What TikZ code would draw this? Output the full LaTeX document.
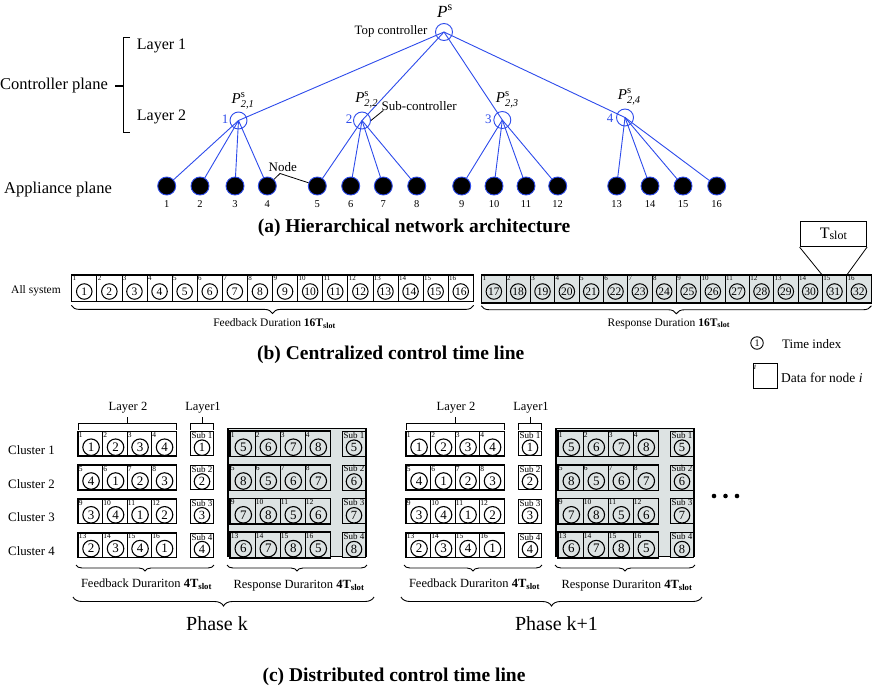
\documentclass[tikz,border=0pt]{standalone}
\usepackage{fontspec}
\usepackage{amsmath}
\setmainfont{Liberation Serif}
\usetikzlibrary{decorations.pathreplacing,backgrounds}
\definecolor{ablue}{RGB}{45,75,235}
\definecolor{gfill}{RGB}{221,227,227}
\newcommand{\myfs}[1]{\fontsize{#1}{#1}\selectfont}
\begin{document}
\begin{tikzpicture}[x=1pt,y=-1pt,
  ctrl/.style={circle,draw=ablue,line width=0.9pt,minimum size=17pt,inner sep=0pt},
  app/.style={circle,fill=black,draw=ablue,line width=0.9pt,minimum size=18pt,inner sep=0pt},
  link/.style={ablue,line width=0.9pt},
  lbl/.style={inner sep=0pt},
  slotbox/.style={draw,line width=0.8pt,inner sep=0pt},
  tcirc/.style={circle,draw,line width=1pt,minimum size=15.5pt,inner sep=0pt,font=\myfs{11.5}},
  idx/.style={inner sep=1.2pt,anchor=north west,font=\myfs{7}},
  idxc/.style={inner sep=1.2pt,anchor=north west,font=\myfs{7.5}},
  cbox/.style={draw,line width=1pt,minimum height=24pt,inner sep=0pt},
  ccirc/.style={circle,draw,line width=1.1pt,minimum size=16.5pt,inner sep=0pt,font=\myfs{13}},
  scirc/.style={circle,draw,line width=1.1pt,minimum size=15.5pt,inner sep=0pt,font=\myfs{12.5}},
  brc/.style={decorate,decoration={brace,mirror,amplitude=#1},line width=0.9pt},
  brk/.style={line width=0.8pt},
]
\useasboundingbox (0,0) rectangle (872,688);

% ---------------- (a) hierarchical network ----------------
\node[ctrl] (top) at (444,32) {};
\node[ctrl] (s1) at (238.5,120.5) {};
\node[ctrl] (s2) at (362,120.5) {};
\node[ctrl] (s3) at (502.3,120) {};
\node[ctrl] (s4) at (625,117.5) {};
\foreach \x [count=\i] in {166.7,200,235,267.3,317.3,350.7,383.3,416.7,461.7,494,526,557.7,616.7,650,683,716.7} {
  \node[app] (a\i) at (\x,186) {};
  \node[lbl,font=\myfs{10.5}] (an\i) at (\x,204) {\i};
}
\begin{scope}[on background layer]
  \foreach \k in {1,...,4} \draw[link] (top.center) -- (s\k.center);
  \foreach \j in {1,...,16} {
    \pgfmathtruncatemacro{\sid}{(\j-1)/4+1}
    \draw[link] (s\sid.center) -- (a\j.center);
  }
\end{scope}

\node[lbl,font=\myfs{17}] (ptop) at (445,11) {$\textit{P}^{\text{s}}$};
\node[lbl,font=\myfs{12.8}] (tc) at (391,31) {Top controller};
\node[lbl,font=\myfs{15}] (p1) at (243,101) {$\textit{P}^{\text{s}}_{\textit{2,1}}$};
\node[lbl,font=\myfs{15}] (p2) at (366.7,100) {$\textit{P}^{\text{s}}_{\textit{2,2}}$};
\node[lbl,font=\myfs{15}] (p3) at (507.3,100) {$\textit{P}^{\text{s}}_{\textit{2,3}}$};
\node[lbl,font=\myfs{15}] (p4) at (629.3,97) {$\textit{P}^{\text{s}}_{\textit{2,4}}$};
\node[lbl,ablue,font=\myfs{13}] (k1) at (225,119) {1};
\node[lbl,ablue,font=\myfs{13}] (k2) at (349,119) {2};
\node[lbl,ablue,font=\myfs{13}] (k3) at (488.3,119) {3};
\node[lbl,ablue,font=\myfs{13}] (k4) at (610,118) {4};

\node[lbl,anchor=west,font=\myfs{13}] (sc) at (381.5,106.5) {Sub-controller};
\coordinate (scl) at (383.3,110.5);
\draw[line width=0.8pt] (scl) -- (s2.east);

\node[lbl,font=\myfs{13}] (nodelbl) at (282.7,167.5) {Node};
\coordinate (nk) at (280,173.5);
\draw[line width=0.8pt] (a4.45) -- (nk) -- (a5.160);

\node[lbl,anchor=west,font=\myfs{16}] (lay1) at (136.7,45.5) {Layer 1};
\node[lbl,anchor=west,font=\myfs{16}] (lay2) at (136.7,116.5) {Layer 2};
\node[lbl,anchor=west,font=\myfs{16.5}] (cp) at (0,86) {Controller plane};
\node[lbl,anchor=west,font=\myfs{16.5}] (ap) at (4,189.5) {Appliance plane};
\draw[line width=1.1pt] (130,37.3) -- (123.3,37.3) -- (123.3,132.7) -- (130,132.7);
\draw[line width=1.1pt] (115,86) -- (123.3,86);

\node[lbl,font=\myfs{19.5}\bfseries] (capa) at (414,228) {(a) Hierarchical network architecture};

% ---------------- (b) centralized time line ----------------
\node[lbl,font=\myfs{11.5}] (allsys) at (36,291) {All system};
\foreach \i in {1,...,16} {
  \node[slotbox,minimum width=25.1pt,minimum height=26pt] (f\i) at ({71.7+25.1*(\i-0.5)},288) {};
  \node[tcirc] (fc\i) at ({71.7+25.1*(\i-0.5)},291.5) {\i};
  \node[idx] (fi\i) at (f\i.north west) {\i};
}
\draw[line width=1pt] (f1.north west) rectangle (f16.south east);
\foreach \i in {1,...,16} {
  \pgfmathtruncatemacro{\tv}{\i+16}
  \node[slotbox,fill=gfill,minimum width=24.33pt,minimum height=27.3pt] (r\i) at ({481.7+24.33*(\i-0.5)},288.7) {};
  \node[tcirc] (rc\i) at ({481.7+24.33*(\i-0.5)},291.5) {\tv};
  \node[idx] (ri\i) at (r\i.north west) {\i};
}
\draw[line width=1.6pt] (r1.north west) rectangle (r16.south east);

\node[draw,line width=0.8pt,minimum width=66.7pt,minimum height=25pt,inner sep=0pt,font=\myfs{16}] (ts) at (833.3,234.2) {T\raisebox{-1pt}{\myfs{12}slot}};
\draw[line width=0.8pt] (ts.south west) -- (r15.north west);
\draw[line width=0.8pt] (ts.south east) -- (r15.north east);

\draw[brc=8pt] ([yshift=-4pt]f1.south west) -- ([yshift=-4pt]f16.south east);
\draw[brc=8pt] ([yshift=-3pt]r1.south west) -- ([yshift=-3pt]r16.south east);
\node[lbl,font=\myfs{11.5}] (fdt) at (274.5,323.5) {Feedback Duration \textbf{16T}\textsubscript{\textbf{slot}}};
\node[lbl,font=\myfs{11.5}] (rdt) at (668.8,323.5) {Response Duration \textbf{16T}\textsubscript{\textbf{slot}}};

\node[circle,draw,line width=0.9pt,minimum size=12.5pt,inner sep=0pt,font=\myfs{10}] (legc) at (757,343) {1};
\node[lbl,anchor=west,font=\myfs{13}] (legct) at (782,344) {Time index};
\node[draw,line width=0.9pt,minimum width=24pt,minimum height=25pt,inner sep=0pt] (legb) at (765,375.5) {};
\node[inner sep=1.2pt,anchor=north west,font=\myfs{8.5}\itshape] (legbi) at (legb.north west) {i};
\node[lbl,anchor=west,font=\myfs{13.5}] (legbt) at (781,378) {Data for node \textit{i}};

\node[lbl,font=\myfs{19.5}\bfseries] (capb) at (390.7,355) {(b) Centralized control time line};

% ---------------- (c) distributed time line ----------------
\node[lbl,font=\myfs{12.8}] (cl1) at (31.5,450) {Cluster 1};
\node[lbl,font=\myfs{12.8}] (cl2) at (31.5,484.3) {Cluster 2};
\node[lbl,font=\myfs{12.8}] (cl3) at (31.5,516.7) {Cluster 3};
\node[lbl,font=\myfs{12.8}] (cl4) at (31.5,551) {Cluster 4};

\foreach \ph/\ox/\pl/\px in {k/0/k/217,kk/328/k+1/556.5} {
  \node[draw,fill=gfill,line width=1.5pt,minimum width=138pt,minimum height=128pt,inner sep=0pt] (gr\ph) at ({\ox+297},492.5) {};
  \foreach \rw in {1,...,4} {
    \pgfmathsetmacro{\rowy}{443.7+33.8*(\rw-1)}
    \foreach \cl in {1,...,4} {
      \pgfmathtruncatemacro{\tn}{mod(\cl-\rw+4,4)+1}
      \pgfmathtruncatemacro{\tq}{\tn+4}
      \pgfmathtruncatemacro{\nd}{4*(\rw-1)+\cl}
      \node[cbox,minimum width=24.5pt] (fb\ph-\rw-\cl) at ({\ox+78+24.5*(\cl-0.5)},{\rowy}) {};
      \node[ccirc] (fbc\ph-\rw-\cl) at ({\ox+78+24.5*(\cl-0.5)+0.8},{\rowy+3.5}) {\tn};
      \node[idxc] (fbi\ph-\rw-\cl) at (fb\ph-\rw-\cl.north west) {\nd};
      \node[cbox,fill=gfill,minimum width=25pt,minimum height=25pt] (rs\ph-\rw-\cl) at ({\ox+230+25*(\cl-0.5)},{\rowy}) {};
      \node[ccirc] (rsc\ph-\rw-\cl) at ({\ox+230+25*(\cl-0.5)+0.8},{\rowy+3.5}) {\tq};
      \node[idxc] (rsi\ph-\rw-\cl) at (rs\ph-\rw-\cl.north west) {\nd};
    }
    \draw[line width=1.3pt] (fb\ph-\rw-1.north west) rectangle (fb\ph-\rw-4.south east);
    \draw[line width=1.3pt] (rs\ph-\rw-1.north west) rectangle (rs\ph-\rw-4.south east);
    \pgfmathtruncatemacro{\rq}{\rw+4}
    \node[cbox,minimum width=23pt] (sb\ph-\rw) at ({\ox+202},{\rowy}) {};
    \node[lbl,anchor=north,font=\myfs{9}] (sbt\ph-\rw) at ([yshift=-1pt]sb\ph-\rw.north) {Sub \rw};
    \node[scirc] (sbc\ph-\rw) at ({\ox+202},{\rowy+4}) {\rw};
    \node[cbox,fill=gfill,minimum width=23pt,minimum height=25pt] (sr\ph-\rw) at ({\ox+354},{\rowy}) {};
    \node[lbl,anchor=north,font=\myfs{9}] (srt\ph-\rw) at ([yshift=-1pt]sr\ph-\rw.north) {Sub \rw};
    \node[scirc] (src\ph-\rw) at ({\ox+354},{\rowy+4}) {\rq};
  }
  \draw[brk] ({\ox+78},430) -- ({\ox+78},423) -- ({\ox+176},423) -- ({\ox+176},430);
  \draw[brk] ({\ox+127},423) -- ({\ox+127},417);
  \node[lbl,font=\myfs{12.5}] (l2\ph) at ({\ox+128},407.5) {Layer 2};
  \draw[brk] ({\ox+190.5},430) -- ({\ox+190.5},423) -- ({\ox+213.5},423) -- ({\ox+213.5},430);
  \draw[brk] ({\ox+202},423) -- ({\ox+202},417);
  \node[lbl,font=\myfs{12.5}] (l1\ph) at ({\ox+203},407.5) {Layer1};

  \draw[brc=6pt] ({\ox+76},565) -- ({\ox+214},565);
  \draw[brc=6pt] ({\ox+227},565) -- ({\ox+367},565);
  \node[lbl,font=\myfs{12.5}] (fdc\ph) at ({\ox+146.5},584) {Feedback Durariton \textbf{4T}\textsubscript{\textbf{slot}}};
  \node[lbl,font=\myfs{12.5}] (rdc\ph) at ({\ox+299},586) {Response Durariton \textbf{4T}\textsubscript{\textbf{slot}}};
  \draw[brc=9pt] ({\ox+73},597) -- ({\ox+374},597);
  \node[lbl,font=\myfs{20}] (ph\ph) at (\px,624) {Phase \pl};
}

\node[circle,fill,minimum size=4.6pt,inner sep=0pt] (d1) at (714,496) {};
\node[circle,fill,minimum size=4.6pt,inner sep=0pt] (d2) at (725.5,496) {};
\node[circle,fill,minimum size=4.6pt,inner sep=0pt] (d3) at (737,496) {};

\node[lbl,font=\myfs{19.5}\bfseries] (capc) at (394,677) {(c) Distributed control time line};
\end{tikzpicture}
\end{document}
